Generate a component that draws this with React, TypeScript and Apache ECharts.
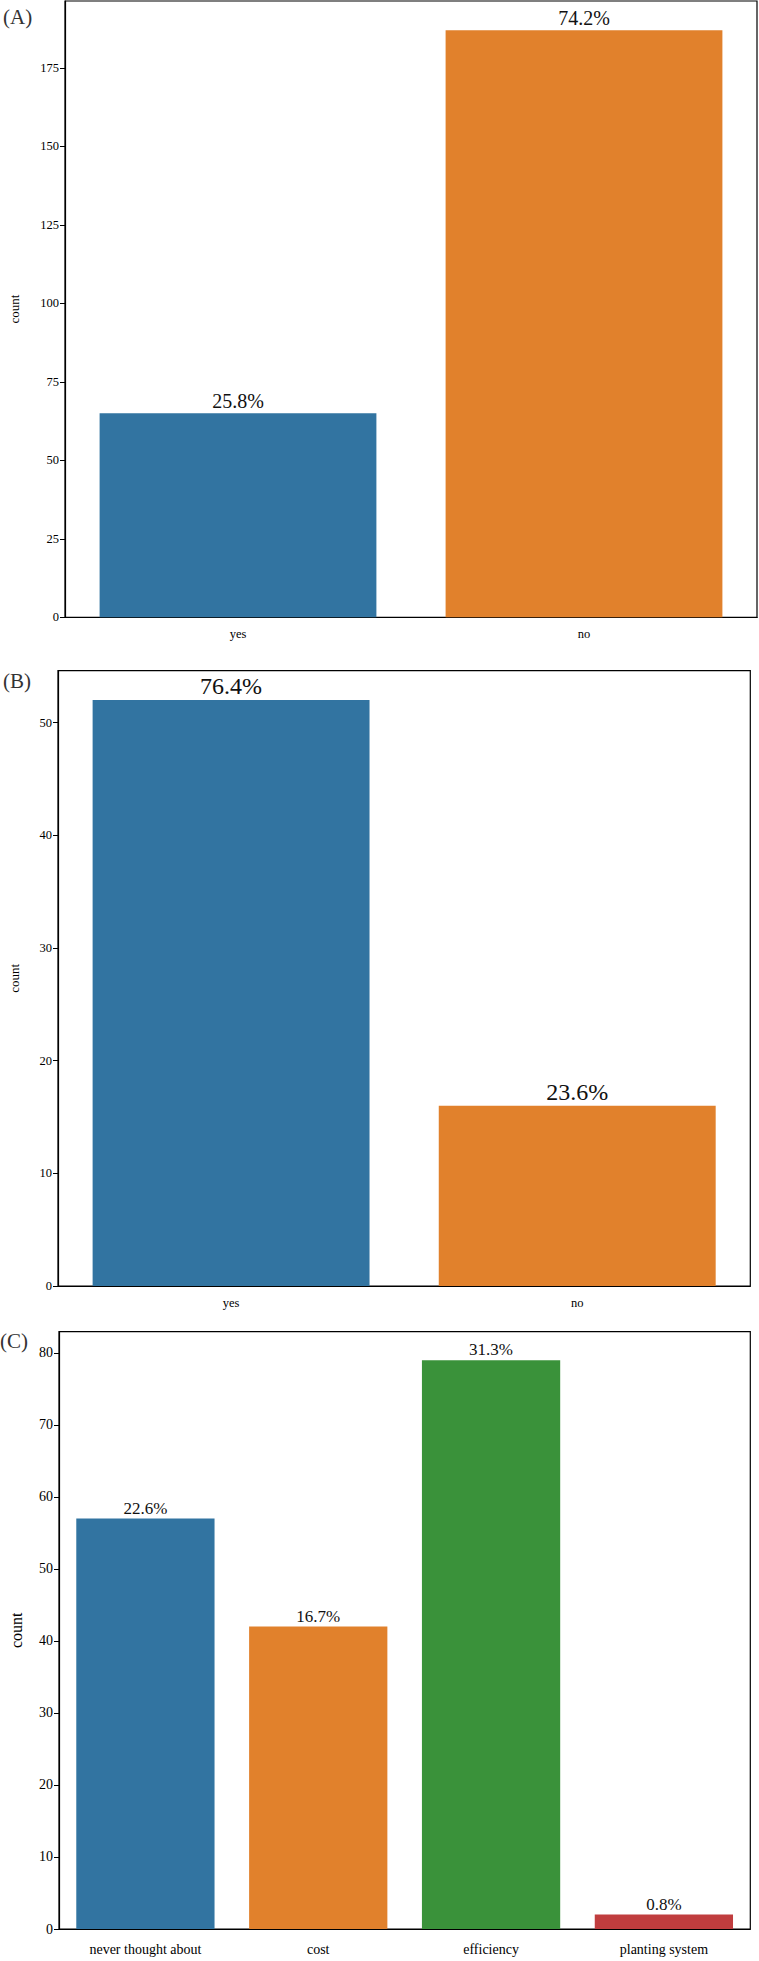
import React, { useEffect, useRef } from "react";
import * as echarts from "echarts";

const catsA = ["yes", "no"];
const valsA = [65, 187];
const pctA = ["25.8%", "74.2%"];
const ticksA = [0, 25, 50, 75, 100, 125, 150, 175];

const catsB = ["yes", "no"];
const valsB = [52, 16];
const pctB = ["76.4%", "23.6%"];
const ticksB = [0, 10, 20, 30, 40, 50];

const catsC = ["never thought about", "cost", "efficiency", "planting system"];
const valsC = [57, 42, 79, 2];
const pctC = ["22.6%", "16.7%", "31.3%", "0.8%"];
const ticksC = [0, 10, 20, 30, 40, 50, 60, 70, 80];

const colors = ["#3274a1", "#e1812c", "#3a923a", "#c03d3e"];
const FONT = "'Liberation Serif', 'Times New Roman', Tinos, serif";

export default function App() {
  const ref = useRef<HTMLDivElement>(null);
  useEffect(() => {
    document.body.style.margin = "0";
    const chart = echarts.init(ref.current!, null, { renderer: "svg" });
    const grids = [
      { left: 59, top: 1, width: 698, height: 616.3 },
      { left: 52.3, top: 670.7, width: 698, height: 615.3 },
      { left: 53.3, top: 1331.7, width: 697, height: 597.3 },
    ];
    const cats = [catsA, catsB, catsC];
    const vals = [valsA, valsB, valsC];
    const pcts = [pctA, pctB, pctC];
    const ticks = [ticksA, ticksB, ticksC];
    const maxes = [187 * 1.05, 52 * 1.05, 79 * 1.05];
    const labelSizes = [20, 24, 17];
    const tickSizes = [12.5, 12.5, 14];
    const xSizes = [12.5, 12.5, 14];
    const xMargins = [10, 10, 13];
    const nameSizes = [13, 13, 16];
    const nameGaps = [44, 37, 35];

    const option: any = {
      animation: false,
      textStyle: { fontFamily: FONT },
      grid: grids.map((g) => ({
        ...g,
        show: true,
        borderColor: "#000",
        borderWidth: 1.2,
        backgroundColor: "transparent",
      })),
      xAxis: cats.map((c, i) => ({
        type: "category",
        gridIndex: i,
        data: c,
        axisLine: { lineStyle: { color: "#000", width: 1.2 } },
        axisTick: { alignWithLabel: true, length: 5, lineStyle: { color: "#000" } },
        axisLabel: { color: "#000", fontFamily: FONT, fontSize: xSizes[i], margin: xMargins[i] },
      })),
      yAxis: ticks.map((t, i) => ({
        type: "value",
        gridIndex: i,
        min: 0,
        max: maxes[i],
        name: "count",
        nameLocation: "middle",
        nameGap: nameGaps[i],
        nameTextStyle: { color: "#000", fontFamily: FONT, fontSize: nameSizes[i] },
        axisLine: { show: true, lineStyle: { color: "#000", width: 1.2 } },
        axisTick: { show: true, length: 5, customValues: t, lineStyle: { color: "#000" } },
        axisLabel: {
          color: "#000",
          fontFamily: FONT,
          fontSize: tickSizes[i],
          margin: 6,
          customValues: t,
        },
        splitLine: { show: false },
      })),
      series: vals.map((v, i) => ({
        type: "bar",
        xAxisIndex: i,
        yAxisIndex: i,
        barCategoryGap: "20%",
        data: v.map((val, j) => ({ value: val, itemStyle: { color: colors[j] } })),
        label: {
          show: true,
          position: "top",
          distance: 2,
          color: "#111",
          fontFamily: FONT,
          fontSize: labelSizes[i],
          formatter: (p: any) => pcts[i][p.dataIndex],
        },
      })),
      graphic: [
        { type: "text", left: 3, top: 6, style: { text: "(A)", fontFamily: FONT, fontSize: 21, fill: "#333" } },
        { type: "text", left: 3, top: 670, style: { text: "(B)", fontFamily: FONT, fontSize: 21, fill: "#333" } },
        { type: "text", left: 0, top: 1330, style: { text: "(C)", fontFamily: FONT, fontSize: 21, fill: "#333" } },
      ],
    };
    chart.setOption(option);
    return () => chart.dispose();
  }, []);
  return <div ref={ref} style={{ width: 759, height: 1961 }} />;
}
